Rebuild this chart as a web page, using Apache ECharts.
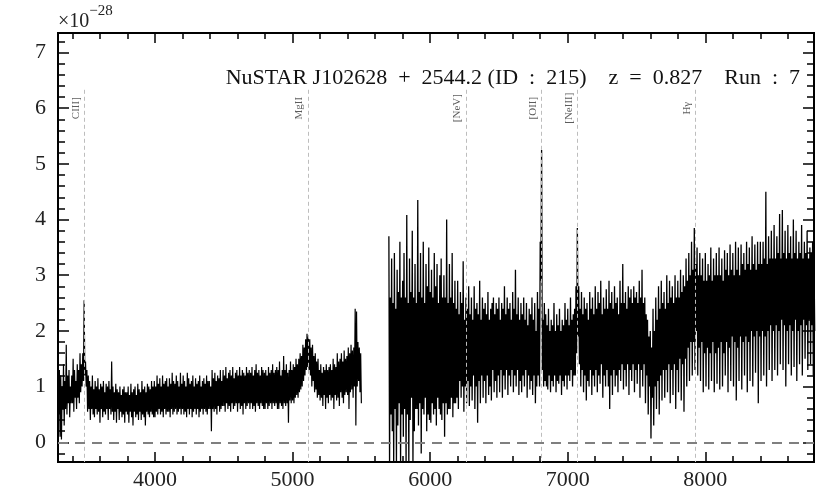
<!DOCTYPE html>
<html>
<head>
<meta charset="utf-8">
<script src="https://cdn.jsdelivr.net/npm/echarts@6/dist/echarts.min.js"></script>
<style>html,body{margin:0;padding:0;background:#fff}#c{width:830px;height:498px}</style>
</head>
<body>
<div id="c"></div>
<script>
// ---- data ----
const titleText = 'NuSTAR J102628  +  2544.2 (ID  :  215)    z  =  0.827    Run  :  7';
const seg1Start = 3295, seg1Step = 5;
const seg1Flux = [
1.65,0.5,1.3,0.1,1.2,0.05,1.0,0.6,1.4,0.3,1.1,0.6,1.75,0.5,1.2,0.7,1.3,0.45,1.0,0.7,
1.2,0.7,1.5,0.55,1.3,0.8,1.1,0.6,1.4,0.8,1.3,0.7,1.6,0.9,1.4,1.0,1.6,1.1,2.55,1.2,
1.45,1.0,1.3,0.55,1.2,0.6,1.1,0.4,1.0,0.6,1.2,0.5,0.95,0.45,1.1,0.6,1.0,0.5,1.15,0.55,
0.95,0.35,1.05,0.6,1.0,0.45,1.1,0.55,0.9,0.5,1.05,0.6,1.0,0.4,1.1,0.6,0.95,0.5,1.45,0.55,
1.0,0.4,0.9,0.55,1.05,0.35,0.95,0.6,0.9,0.4,1.0,0.55,0.85,0.45,0.95,0.5,1.0,0.35,0.9,0.55,
0.9,0.5,1.0,0.35,0.85,0.55,1.05,0.45,0.9,0.3,0.95,0.55,1.0,0.45,0.85,0.5,1.05,0.4,0.95,0.55,
0.9,0.4,1.1,0.5,0.95,0.45,1.0,0.3,0.9,0.55,1.05,0.5,1.0,0.45,0.95,0.55,1.1,0.5,1.0,0.45,
1.1,0.45,1.0,0.55,1.2,0.5,1.05,0.6,1.15,0.5,1.0,0.55,1.2,0.45,1.05,0.6,1.1,0.5,1.15,0.55,
1.0,0.55,1.15,0.45,1.05,0.6,1.25,0.5,1.1,0.55,1.05,0.6,1.2,0.5,1.1,0.55,1.0,0.6,1.25,0.5,
1.05,0.6,1.2,0.5,1.1,0.55,1.0,0.45,1.25,0.6,1.15,0.5,1.05,0.6,1.1,0.45,1.2,0.55,1.0,0.6,
1.15,0.5,1.05,0.6,1.1,0.45,1.2,0.55,1.0,0.6,1.1,0.5,1.15,0.6,1.05,0.55,1.2,0.5,1.1,0.6,
1.1,0.6,1.0,0.2,1.3,0.6,1.15,0.55,1.25,0.6,1.1,0.5,1.2,0.65,1.15,0.55,1.3,0.6,1.1,0.65,
1.3,0.65,1.2,0.55,1.35,0.7,1.15,0.6,1.25,0.65,1.3,0.55,1.2,0.7,1.35,0.6,1.15,0.65,1.25,0.7,
1.3,0.55,1.2,0.7,1.35,0.6,1.2,0.65,1.3,0.5,1.25,0.7,1.2,0.6,1.35,0.65,1.25,0.7,1.3,0.6,
1.25,0.7,1.35,0.6,1.2,0.65,1.3,0.55,1.4,0.7,1.25,0.65,1.3,0.6,1.2,0.7,1.35,0.65,1.3,0.6,
1.25,0.6,1.3,0.7,1.2,0.6,1.35,0.65,1.25,0.7,1.3,0.6,1.4,0.7,1.25,0.65,1.3,0.7,1.35,0.6,
1.3,0.6,1.45,0.7,1.2,0.65,1.3,0.6,1.55,0.7,1.3,0.65,1.4,0.7,1.25,0.35,1.3,0.75,1.45,0.7,
1.3,0.75,1.4,0.7,1.35,0.8,1.5,0.85,1.4,0.8,1.5,0.9,1.6,0.95,1.55,1.0,1.75,1.1,1.7,1.2,
1.85,1.3,1.95,1.35,1.9,1.3,1.85,1.2,1.7,1.0,1.75,1.1,1.55,0.9,1.6,0.95,1.45,0.8,1.5,0.85,
1.3,0.75,1.4,0.8,1.25,0.65,1.35,0.85,1.3,0.6,1.4,0.8,1.3,0.7,1.35,0.85,1.4,0.75,1.3,0.8,
1.5,0.6,1.4,0.85,1.35,0.75,1.6,0.8,1.45,0.65,1.5,0.9,1.6,0.8,1.45,0.7,1.65,0.85,1.5,0.9,
1.55,0.85,1.7,0.6,1.6,0.9,1.75,0.95,1.65,0.8,1.7,1.0,2.4,0.3,2.35,1.0,1.8,1.1,1.7,0.9,
1.6,0.7
];
const seg2Start = 5700, seg2Step = 5;
const seg2Flux = [
3.7,-0.4,2.6,0.5,3.3,0.2,2.5,-0.4,3.4,0.6,2.4,-0.4,3.1,0.3,2.7,0.7,3.6,-0.4,2.6,0.5,
2.9,0.1,3.4,0.6,2.6,-0.4,4.08,0.5,2.5,-0.4,3.3,0.4,2.7,0.8,3.8,-0.4,2.6,0.2,3.2,0.6,
2.5,0.6,4.35,0.3,2.7,0.7,3.4,-0.2,2.6,0.6,3.6,0.5,2.5,0.8,3.2,0.2,2.8,0.5,3.5,0.4,
2.7,0.35,3.1,0.7,2.6,0.5,3.4,0.6,2.8,0.3,3.2,0.8,2.5,0.6,3.0,0.5,3.3,0.4,2.6,0.7,
3.0,0.1,2.6,0.7,4.0,0.5,2.5,0.6,3.2,0.6,2.6,0.8,3.4,0.45,2.5,0.7,2.9,0.7,2.4,0.8,
2.9,0.6,2.3,1.1,2.7,0.8,2.5,1.0,3.25,0.55,2.2,1.0,2.6,0.7,2.4,1.1,2.8,0.65,2.3,1.0,
2.6,0.75,2.2,1.2,2.8,0.6,2.4,1.0,2.5,0.35,2.3,1.1,2.9,0.7,2.2,1.2,2.6,0.8,2.4,1.1,
2.5,0.7,2.3,1.2,2.7,0.85,2.2,1.0,2.4,0.75,2.5,1.3,2.6,0.9,2.3,1.1,2.5,0.8,2.4,1.2,
2.6,0.9,2.2,1.3,2.5,0.8,2.4,1.2,2.8,0.95,2.3,1.3,2.6,0.85,2.4,1.2,2.5,1.0,2.2,1.3,
2.7,0.9,2.4,1.2,3.1,1.0,2.3,1.3,2.6,0.85,2.2,1.1,2.5,0.9,2.3,1.2,2.6,1.0,2.2,1.3,
2.5,0.8,2.1,1.2,2.4,0.95,2.3,1.1,2.6,0.85,2.2,1.2,2.5,0.7,2.0,1.0,2.7,1.2,2.4,1.0,
3.6,2.9,5.25,1.3,2.2,1.0,2.5,1.1,2.3,1.0,2.1,0.95,2.4,1.2,2.0,0.9,2.2,1.1,2.1,1.0,
2.5,1.2,2.0,0.9,2.3,1.1,2.1,1.05,2.4,1.2,2.0,0.85,2.2,1.1,2.1,1.0,2.5,1.2,2.2,0.95,
2.4,1.2,2.1,1.1,2.6,1.3,2.2,1.0,2.3,1.2,2.4,1.2,2.8,1.6,3.85,1.9,2.8,1.4,2.4,1.0,
2.7,1.3,2.3,0.9,2.6,1.2,2.4,0.75,2.5,1.1,2.2,1.0,2.7,1.3,2.4,0.85,2.6,1.2,2.3,1.0,
2.8,1.3,2.4,0.9,2.7,1.2,2.5,1.05,2.9,1.4,2.3,0.8,2.6,1.2,2.4,1.0,2.75,1.3,2.4,1.0,
2.9,0.6,2.5,1.2,2.7,0.85,2.4,1.3,2.8,1.0,2.5,1.2,2.6,0.9,2.3,1.3,2.9,1.1,2.5,1.4,
3.2,0.95,2.5,1.3,2.7,1.0,2.4,1.4,2.8,0.85,2.6,1.3,2.75,1.1,2.5,1.4,2.8,0.9,2.6,1.3,
2.7,1.05,2.5,1.4,2.9,0.8,2.6,1.3,3.1,1.0,2.5,1.4,2.6,0.7,2.3,1.2,2.2,0.5,1.9,1.0,
2.0,0.07,1.7,0.8,2.4,0.3,2.0,1.0,2.6,0.6,2.2,1.1,2.8,0.5,2.4,1.2,2.9,0.75,2.5,1.3,
2.7,0.8,2.4,1.3,3.0,0.9,2.5,1.4,2.9,0.7,2.6,1.3,2.8,0.85,2.5,1.4,3.0,0.6,2.6,1.3,
2.9,0.9,2.6,1.5,3.1,0.75,2.7,1.4,3.0,0.55,2.8,1.5,3.3,1.0,2.9,1.7,3.4,1.1,3.0,1.8,
3.6,1.2,3.1,1.8,3.85,1.3,3.2,2.0,3.5,1.2,3.0,1.7,3.4,1.1,3.0,1.8,3.3,0.9,2.9,1.6,
3.4,1.0,2.9,1.7,3.2,0.95,3.0,1.6,3.5,1.1,2.9,1.8,3.3,0.9,3.0,1.6,3.4,1.05,3.0,1.7,
3.5,0.95,3.0,1.8,3.3,1.0,2.9,1.6,3.45,1.2,3.1,1.8,3.4,0.9,3.0,1.7,3.55,1.1,3.1,1.9,
3.4,1.0,3.0,1.8,3.6,0.75,3.1,1.7,3.5,1.1,3.0,1.9,3.55,0.95,3.2,1.8,3.4,1.2,3.1,1.9,
3.6,0.9,3.2,1.8,3.5,1.1,3.1,2.0,3.7,1.0,3.2,1.9,3.55,1.25,3.1,2.0,3.6,0.7,3.2,1.9,
3.6,1.1,3.2,2.0,3.6,1.2,3.3,1.9,4.5,1.0,3.2,2.0,3.7,1.3,3.3,2.1,3.8,1.1,3.3,2.0,
3.9,1.3,3.3,2.1,3.7,1.2,3.4,2.0,4.1,1.4,3.3,2.2,4.17,1.3,3.4,2.1,3.8,1.0,3.3,2.0,
3.9,1.4,3.4,2.1,3.7,1.2,3.3,2.0,4.0,1.35,3.4,2.2,3.8,1.1,3.3,2.0,3.6,1.4,3.4,2.1,
3.9,1.2,3.3,2.2,3.6,1.5,3.4,2.1,3.8,1.3,3.3,2.2,3.5,1.4,3.4,2.1,3.6,1.2,3.3,2.0
];
const lineNames = ['CIII]', 'MgII', '[NeV]', '[OII]', '[NeIII]', 'H\u03b3'];
const lineWaves = [3488, 5112, 6259, 6809, 7069, 7929];
const xMajorTicks = [4000, 5000, 6000, 7000, 8000];
const xMinorTicks = [3400, 3600, 3800, 4200, 4400, 4600, 4800, 5200, 5400, 5600, 5800, 6200, 6400, 6600, 6800, 7200, 7400, 7600, 7800, 8200, 8400, 8600];
const yMajorTicks = [0, 1, 2, 3, 4, 5, 6, 7];
const yMinorTicks = [-0.2, 0.2, 0.4, 0.6, 0.8, 1.2, 1.4, 1.6, 1.8, 2.2, 2.4, 2.6, 2.8, 3.2, 3.4, 3.6, 3.8, 4.2, 4.4, 4.6, 4.8, 5.2, 5.4, 5.6, 5.8, 6.2, 6.4, 6.6, 6.8, 7.2];
const xMin = 3295, xMax = 8790, yMin = -0.354, yMax = 7.35;
const lineTop = 6.33, labelY = 6.0;

// ---- build ----
const FONT = 'Liberation Serif';
const seg1 = seg1Flux.map((v, i) => [seg1Start + i * seg1Step, v]);
const seg2 = seg2Flux.map((v, i) => [seg2Start + i * seg2Step, v]);

function xAx(pos, ticks, len, labels) {
  return {
    type: 'value', position: pos, min: xMin, max: xMax, gridIndex: 0,
    axisLine: { show: true, onZero: false, lineStyle: { color: '#000', width: 2 } },
    axisTick: { show: true, inside: true, length: len, customValues: ticks, lineStyle: { color: '#000', width: 1.5 } },
    axisLabel: labels ? { show: true, customValues: ticks, formatter: v => String(v), fontFamily: FONT, fontSize: 22, color: '#222', margin: 7 } : { show: false },
    splitLine: { show: false }
  };
}
function yAx(pos, ticks, len, labels) {
  return {
    type: 'value', position: pos, min: yMin, max: yMax, gridIndex: 0,
    axisLine: { show: true, onZero: false, lineStyle: { color: '#000', width: 2 } },
    axisTick: { show: true, inside: true, length: len, customValues: ticks, lineStyle: { color: '#000', width: 1.5 } },
    axisLabel: labels ? { show: true, customValues: ticks, formatter: v => String(v), fontFamily: FONT, fontSize: 22, color: '#222', margin: 12 } : { show: false },
    splitLine: { show: false }
  };
}

const chart = echarts.init(document.getElementById('c'), null, { renderer: 'canvas' });
chart.setOption({
  animation: false,
  backgroundColor: '#fff',
  title: [
    { text: titleText, right: 25, top: 62,
      textStyle: { fontFamily: FONT, fontSize: 22, fontWeight: 'normal', color: '#111' } },
    { text: '{a|\u00d710}{b|\u221228}', left: 53, top: -1,
      textStyle: { fontWeight: 'normal', rich: {
        a: { fontFamily: FONT, fontSize: 20, fontWeight: 'normal', color: '#222', verticalAlign: 'bottom', lineHeight: 28 },
        b: { fontFamily: FONT, fontSize: 15, fontWeight: 'normal', color: '#222', verticalAlign: 'top', lineHeight: 28 }
      } } }
  ],
  grid: { left: 58, right: 16, top: 33, bottom: 36, containLabel: false },
  xAxis: [
    xAx('bottom', xMajorTicks, 10, true),
    xAx('bottom', xMinorTicks, 6, false),
    xAx('top', xMajorTicks, 10, false),
    xAx('top', xMinorTicks, 6, false)
  ],
  yAxis: [
    yAx('left', yMajorTicks, 11, true),
    yAx('left', yMinorTicks, 7, false),
    yAx('right', yMajorTicks, 11, false),
    yAx('right', yMinorTicks, 7, false)
  ],
  series: [
    { type: 'line', data: seg1, showSymbol: false, symbol: 'none', z: 2, clip: true,
      lineStyle: { color: '#000', width: 1.2 } },
    { type: 'line', data: seg2, showSymbol: false, symbol: 'none', z: 2, clip: true,
      lineStyle: { color: '#000', width: 1.3 } },
    { type: 'scatter', z: 4, symbolSize: 1, itemStyle: { color: 'rgba(0,0,0,0)' },
      data: lineWaves.map((w, i) => [w, labelY, lineNames[i]]),
      label: { show: true, formatter: p => p.data[2], position: 'left', distance: 8, rotate: 90,
        align: 'center', verticalAlign: 'middle',
        fontFamily: FONT, fontSize: 11, color: '#333' },
      markLine: { silent: true, symbol: 'none', animation: false,
        label: { show: false },
        lineStyle: { color: '#bdbdbd', width: 1, type: [4, 3] },
        data: lineWaves.map(w => [{ coord: [w, lineTop] }, { coord: [w, yMin] }])
      }
    },
    { type: 'line', data: [], z: 5,
      markLine: { silent: true, symbol: 'none', animation: false,
        label: { show: false },
        lineStyle: { color: '#7f7f7f', width: 2, type: [10, 7] },
        data: [{ yAxis: 0 }]
      }
    }
  ]
});
</script>
</body>
</html>
